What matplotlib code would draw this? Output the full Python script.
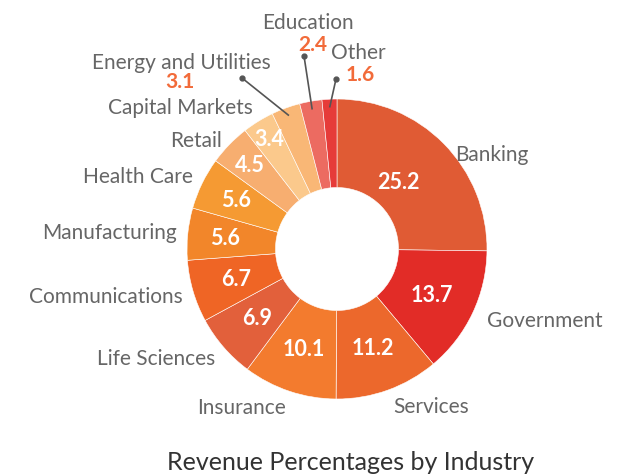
import numpy as np
import matplotlib.pyplot as plt

plt.rcParams['font.family'] = ['Lato', 'DejaVu Sans']

# Data
industries = ["Banking", "Government", "Services", "Insurance", "Life Sciences",
              "Communications", "Manufacturing", "Health Care", "Retail",
              "Capital Markets", "Energy and Utilities", "Education", "Other"]
revenue = [25.2, 13.7, 11.2, 10.1, 6.9, 6.7, 5.6, 5.6, 4.5, 3.4, 3.1, 2.4, 1.6]
colors = ["#E05B34", "#E22C27", "#EC682C", "#F37B2E", "#E2603B", "#EF6525",
          "#F2862A", "#F59A33", "#F7AE70", "#FBC98C", "#F9B776", "#EC6B61",
          "#E63B39"]

W, H = 626, 477
fig = plt.figure(figsize=(W / 100, H / 100), dpi=100)
ax = fig.add_axes([0, 0, 1, 1])

cx, cy, R = 337, H - 250, 150
hole = 0.41

wedges, _ = ax.pie(revenue, colors=colors, startangle=90, counterclock=False,
                   center=(cx, cy), radius=R, frame=True,
                   wedgeprops=dict(width=R * (1 - hole), edgecolor="white", linewidth=0.4))
ax.set_xlim(0, W)
ax.set_ylim(0, H)
ax.axis("off")


def polar(r, deg, ry=None):
    t = np.deg2rad(deg)
    return cx + r * np.cos(t), cy + (ry if ry else r) * np.sin(t)


label_color = "#666666"
value_color = "#F26B3A"
fs_label = 15
callouts = {
    # name: dot offset, label offset, value offset (pixels from centre)
    "Energy and Utilities": ((-95, 171), (-156, 187), (-157, 168)),
    "Education": ((-33, 193), (-29, 227), (-24, 205)),
    "Other": ((-1, 170), (21, 197), (23, 175)),
}

for w, name, val in zip(wedges, industries, revenue):
    mid = (w.theta1 + w.theta2) / 2
    if name in callouts:
        (ddx, ddy), (tdx, tdy), (vdx, vdy) = callouts[name]
        sx, sy = polar(R * 0.95, mid)
        dot = (cx + ddx, cy + ddy)
        ax.plot([sx, dot[0]], [sy, dot[1]], color="#555555", lw=1.2)
        ax.plot(*dot, "o", color="#555555", ms=3.5)
        ax.text(cx + tdx, cy + tdy, name, ha="center", va="center",
                fontsize=fs_label, color=label_color)
        ax.text(cx + vdx, cy + vdy, f"{val}", ha="center", va="center",
                fontsize=fs_label, color=value_color, fontweight="bold")
        continue
    # value inside, pushed outward on narrow slices
    if name == "Banking":
        vx, vy = polar(91, 48)
    else:
        vx, vy = polar(105 + max(0, 6.5 - val) * 8, mid)
    ax.text(vx, vy, f"{val}", ha="center", va="center", fontsize=15.5,
            color="white", fontweight="bold")
    # category outside
    right = np.cos(np.deg2rad(mid)) > 0
    lx, ly = polar(R * (1.11 if right else 1.07), mid, R * 1.11)
    if name == "Banking":
        ly -= 22
    if name == "Retail":
        ly -= 7
    ax.text(lx, ly, name, ha="left" if right else "right", va="center",
            fontsize=fs_label, color=label_color)

ax.text(351, H - 463, "Revenue Percentages by Industry", ha="center", va="center",
        fontsize=18, color="#333333")

fig.savefig("out.png", dpi=100)
